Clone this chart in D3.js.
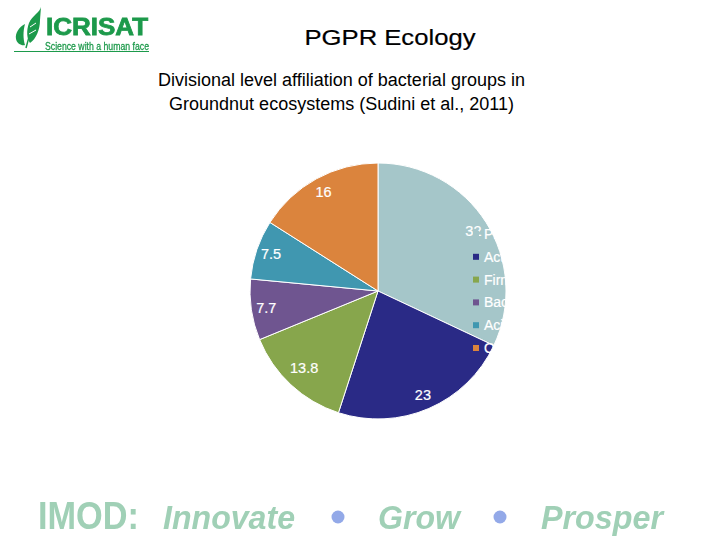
<!DOCTYPE html>
<html>
<head>
<meta charset="utf-8">
<script src="https://cdn.jsdelivr.net/npm/d3@7"></script>
<style>
  html, body { margin: 0; padding: 0; background: #fff; }
  text { font-family: "Liberation Sans", Arial, sans-serif; }
</style>
</head>
<body>
<svg id="chart" width="720" height="540"></svg>
<script>
const groups = ['Proteobacteria', 'Actinobacteria', 'Firmicutes', 'Bacteroidetes', 'Acidobacteria', 'Others'];
const shares = [32, 23, 13.8, 7.7, 7.5, 16];
const sliceColors = ['#a5c6c9', '#2a2a86', '#87a64c', '#6f5590', '#4097b0', '#db843d'];
const subtitleLines = ['Divisional level affiliation of bacterial groups in', 'Groundnut ecosystems (Sudini et al., 2011)'];
const bannerWords = ['Innovate', 'Grow', 'Prosper'];

const svg = d3.select('#chart');

const blur = svg.append('defs').append('filter').attr('id', 'soft');
blur.append('feGaussianBlur').attr('stdDeviation', 0.45);

// TITLES
svg.append('text')
  .attr('x', 390).attr('y', 45)
  .attr('text-anchor', 'middle')
  .style('font-size', '22.5px')
  .attr('stroke', '#000')
  .attr('stroke-width', 0.2)
  .attr('transform', 'translate(390, 0) scale(1.14, 1) translate(-390, 0)')
  .text('PGPR Ecology');

svg.selectAll('.subtitle')
  .data(subtitleLines)
  .join('text')
  .attr('class', 'subtitle')
  .attr('x', 341.5)
  .attr('y', (d, i) => 86 + i * 24)
  .attr('text-anchor', 'middle')
  .style('font-size', '18px')
  .text(d => d);

// PIE
const cx = 378, cy = 291, radius = 128;
const pie = d3.pie().value(d => d).sort(null);
const arc = d3.arc().innerRadius(0).outerRadius(radius);
const labelArc = d3.arc().innerRadius(113).outerRadius(113);
const colorScale = d3.scaleOrdinal().domain(groups).range(sliceColors);

const pieGroup = svg.append('g').attr('transform', `translate(${cx}, ${cy})`);
const slices = pie(shares);

pieGroup.selectAll('path')
  .data(slices)
  .join('path')
  .attr('d', arc)
  .attr('fill', (d, i) => colorScale(groups[i]))
  .attr('stroke', '#fff')
  .attr('stroke-width', 1);

pieGroup.selectAll('text')
  .data(slices)
  .join('text')
  .attr('transform', d => {
    const [x, y] = labelArc.centroid(d);
    // the 13.8 label sits a little further in
    return d.data === 13.8 ? `translate(${x + 3}, ${y - 6})` : `translate(${x}, ${y})`;
  })
  .attr('text-anchor', 'middle')
  .attr('dy', '0.35em')
  .attr('fill', '#fff')
  .attr('stroke', '#fff')
  .attr('stroke-width', 0.2)
  .style('font-size', '14.5px')
  .text(d => d.data);

// LEGEND (white text, so it only shows on top of the pie)
const legendY = d3.scalePoint().domain(groups).range([234, 348]);

const legend = svg.append('g');
legend.selectAll('rect')
  .data(groups)
  .join('rect')
  .attr('x', 473)
  .attr('y', d => legendY(d) - 3)
  .attr('width', 6)
  .attr('height', 6)
  .attr('fill', d => colorScale(d));

legend.selectAll('text')
  .data(groups)
  .join('text')
  .attr('x', 484)
  .attr('y', d => legendY(d))
  .attr('dy', '0.36em')
  .attr('fill', '#fff')
  .attr('stroke', '#fff')
  .attr('stroke-width', 0.2)
  .style('font-size', '14px')
  .text(d => d);

// LOGO
const logo = svg.append('g').attr('filter', 'url(#soft)').attr('fill', '#1f9a4c');
logo.append('path').attr('d', 'M41 7 C40 12 32 16 29 23 C26 31 27 39 30 43 C36 39 40 30 40 20 Z');
logo.append('path').attr('d', 'M25 24 C19 27 15 33 16 39 C17 44 22 46 25 45 C23 39 23 31 25 24 Z');
logo.append('path').attr('d', 'M38 14 C33 24 29 36 26 48').attr('fill', 'none').attr('stroke', '#1f9a4c').attr('stroke-width', 1.5);
logo.append('path').attr('d', 'M30 27 L36 23 M29 34 L36 30').attr('fill', 'none').attr('stroke', '#fff').attr('stroke-width', 1);
logo.append('text')
  .attr('x', 46).attr('y', 34.5)
  .attr('textLength', 102).attr('lengthAdjust', 'spacingAndGlyphs')
  .attr('stroke', '#1f9a4c').attr('stroke-width', 0.8)
  .style('font-size', '24px').style('font-weight', 'bold')
  .text('ICRISAT');
logo.append('text')
  .attr('x', 45).attr('y', 50)
  .attr('textLength', 104).attr('lengthAdjust', 'spacingAndGlyphs')
  .attr('stroke', '#1f9a4c').attr('stroke-width', 0.3)
  .style('font-size', '11.5px')
  .text('Science with a human face');
logo.append('rect').attr('x', 14).attr('y', 51).attr('width', 135).attr('height', 1);

// BANNER
const banner = svg.append('g').attr('filter', 'url(#soft)').attr('fill', '#a0d0b6');
banner.append('text')
  .attr('x', 38).attr('y', 529)
  .attr('textLength', 101).attr('lengthAdjust', 'spacingAndGlyphs')
  .style('font-size', '39px').style('font-weight', 'bold')
  .text('IMOD:');

const wordX = [163, 378, 541];
const wordW = [132, 82, 122];
banner.selectAll('.word')
  .data(bannerWords)
  .join('text')
  .attr('class', 'word')
  .attr('x', (d, i) => wordX[i])
  .attr('y', 529)
  .attr('textLength', (d, i) => wordW[i])
  .attr('lengthAdjust', 'spacingAndGlyphs')
  .style('font-size', '34px')
  .style('font-weight', 'bold')
  .style('font-style', 'italic')
  .text(d => d);

svg.selectAll('.dot')
  .data([338, 500])
  .join('circle')
  .attr('class', 'dot')
  .attr('cx', d => d)
  .attr('cy', 517)
  .attr('r', 6.5)
  .attr('fill', '#93a9e8');
</script>
</body>
</html>
